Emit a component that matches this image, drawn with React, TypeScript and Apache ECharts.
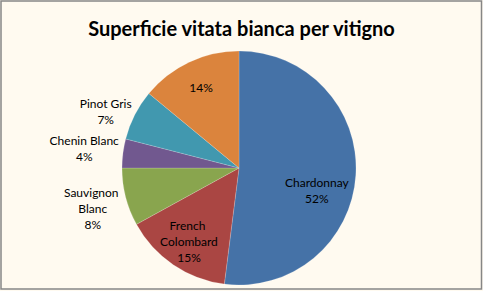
import React, { useEffect, useRef } from "react";
import * as echarts from "echarts";

const TITLE = "Superficie vitata bianca per vitigno";
const categories = ["Chardonnay", "French Colombard", "Sauvignon Blanc", "Chenin Blanc", "Pinot Gris", "Altri"];
const values = [52, 15, 8, 4, 7, 14];
const colors = ["#4572A7", "#AA4643", "#89A54E", "#71588F", "#4198AF", "#DB843D"];
const insideLabels = ["Chardonnay", "French Colombard", "Altri"];
const hideName = ["Altri"];

export default function App() {
  const ref = useRef<HTMLDivElement>(null);
  useEffect(() => {
    document.body.style.margin = "0";
    const chart = echarts.init(ref.current!, null, { renderer: "svg" });
    const font = "Lato, 'Open Sans', sans-serif";
    const cx = 239;
    const cy = 168;
    const fmt = (p: any) => (hideName.includes(p.name) ? `${p.percent}%` : `${p.name}\n${p.percent}%`);
    const shift: Record<string, { dx: number; dy: number }> = {
      Chardonnay: { dx: -11, dy: 17 },
      "Pinot Gris": { dx: 3, dy: 13 },
      "Chenin Blanc": { dx: -3, dy: 0 },
      "Sauvignon Blanc": { dx: 2, dy: 2 },
    };
    const baseLabel = {
      position: "inside",
      color: "#000",
      fontFamily: font,
      fontSize: 12,
      lineHeight: 16,
      width: 76,
      overflow: "break",
      align: "center",
      formatter: fmt,
    };
    const helper = (radius: number, inside: boolean) => ({
      type: "pie",
      silent: true,
      center: [cx, cy],
      radius: [0, radius],
      startAngle: 90,
      clockwise: true,
      avoidLabelOverlap: false,
      z: 5,
      labelLine: { show: false },
      itemStyle: { color: "rgba(0,0,0,0)", borderWidth: 0 },
      label: { ...baseLabel },
      labelLayout: (p: any) => shift[categories[p.dataIndex]] || {},
      data: categories.map((name, i) => ({
        name,
        value: values[i],
        label: { show: insideLabels.includes(name) === inside },
      })),
    });
    chart.setOption({
      animation: false,
      backgroundColor: "#FFFAF0",
      title: {
        text: TITLE,
        left: "center",
        top: 13,
        textStyle: { fontFamily: font, fontWeight: "bold", fontSize: 20, color: "#000" },
      },
      graphic: [
        {
          type: "rect",
          shape: { x: 1, y: 1, width: 480.5, height: 288 },
          style: { fill: "none", stroke: "#868686", lineWidth: 1.5 },
          silent: true,
        },
      ],
      series: [
        {
          type: "pie",
          center: [cx, cy],
          radius: [0, 117],
          startAngle: 90,
          clockwise: true,
          label: { show: false },
          labelLine: { show: false },
          itemStyle: { borderColor: "rgba(255,255,255,0.35)", borderWidth: 0.5 },
          data: categories.map((name, i) => ({ name, value: values[i], itemStyle: { color: colors[i] } })),
        },
        helper(172, true),
        helper(300, false),
      ],
    });
    return () => chart.dispose();
  }, []);
  return <div ref={ref} style={{ width: 483, height: 291 }} />;
}
